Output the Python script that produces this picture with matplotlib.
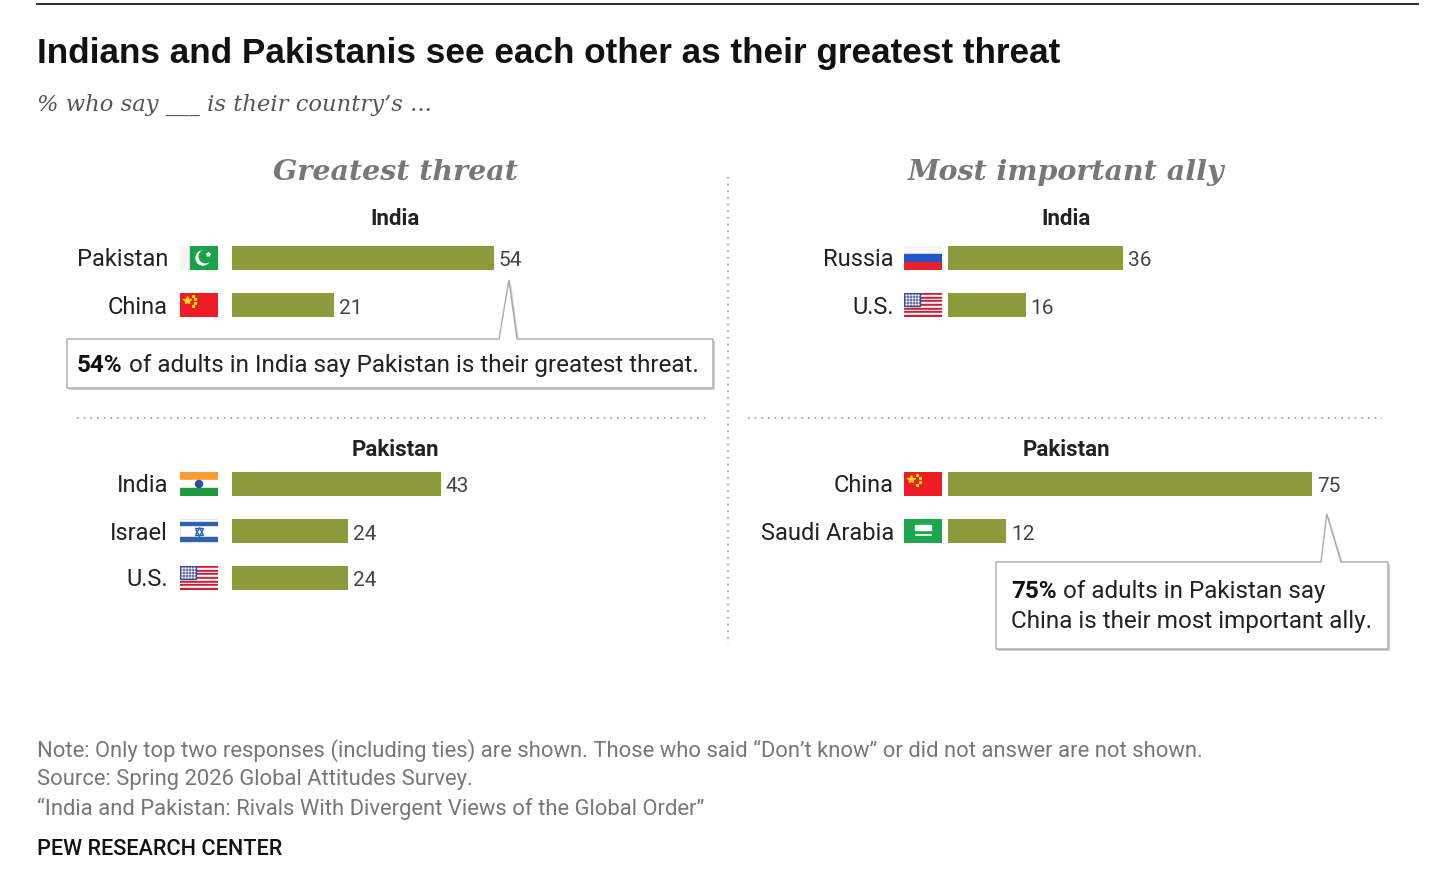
import numpy as np
import matplotlib.pyplot as plt
from matplotlib.patches import Rectangle, Polygon, Ellipse

W, H = 1456, 895
BAR = '#8c9a3b'
SANS = ['Roboto', 'DejaVu Sans']
SERIF = ['DejaVu Serif']

# data
threat_india_labels = ['Pakistan', 'China']
threat_india_values = [54, 21]
threat_pak_labels = ['India', 'Israel', 'U.S.']
threat_pak_values = [43, 24, 24]
ally_india_labels = ['Russia', 'U.S.']
ally_india_values = [36, 16]
ally_pak_labels = ['China', 'Saudi Arabia']
ally_pak_values = [75, 12]


def fx(x):
    return x / W


def fy(y):
    return 1 - y / H


fig = plt.figure(figsize=(W / 100, H / 100), dpi=100)
fig.patch.set_facecolor('white')


def draw_flag(fax, name):
    fax.set_xlim(0, 38)
    fax.set_ylim(24, 0)
    fax.axis('off')
    if name == 'Pakistan':
        fax.add_patch(Rectangle((0, 0), 10, 24, color='#f4f4f4'))
        fax.add_patch(Rectangle((10, 0), 28, 24, color='#1aa14a'))
        fax.add_patch(Ellipse((23, 12), 14, 14, color='white'))
        fax.add_patch(Ellipse((25.5, 10.5), 12.5, 12.5, color='#1aa14a'))
        fax.plot([28], [8], marker='*', color='white', ms=3)
    elif name == 'China':
        fax.add_patch(Rectangle((0, 0), 38, 24, color='#ee1c25'))
        fax.plot([7], [7], marker='*', color='#ffde00', ms=6)
        for sx, sy in [(13, 3), (15.5, 6), (15.5, 10), (13, 13)]:
            fax.plot([sx], [sy], marker='*', color='#ffde00', ms=2)
    elif name == 'India':
        fax.add_patch(Rectangle((0, 0), 38, 8, color='#ff9a2e'))
        fax.add_patch(Rectangle((0, 8), 38, 8, color='white'))
        fax.add_patch(Rectangle((0, 16), 38, 8, color='#1e9a3c'))
        fax.add_patch(Ellipse((19, 12), 7, 7, color='#2a4fa0'))
    elif name == 'Israel':
        fax.add_patch(Rectangle((0, 0), 38, 24, color='white', ec='#dddddd', lw=0.5))
        fax.add_patch(Rectangle((0, 2.5), 38, 3.5, color='#2d62b5'))
        fax.add_patch(Rectangle((0, 18), 38, 3.5, color='#2d62b5'))
        fax.plot([19], [11.5], marker='^', mfc='none', mec='#2d62b5', ms=6, mew=1)
        fax.plot([19], [12.5], marker='v', mfc='none', mec='#2d62b5', ms=6, mew=1)
    elif name == 'U.S.':
        for k in range(13):
            c = '#c8203a' if k % 2 == 0 else 'white'
            fax.add_patch(Rectangle((0, k * 24 / 13), 38, 24 / 13, color=c))
        fax.add_patch(Rectangle((0, 0), 16, 13, color='#3b4c8e'))
        for ix in range(5):
            for iy in range(4):
                fax.plot([2 + ix * 3], [2 + iy * 3], marker='.', color='white', ms=1.5)
    elif name == 'Russia':
        fax.add_patch(Rectangle((0, 0), 38, 8, color='#f6f6f6'))
        fax.add_patch(Rectangle((0, 8), 38, 8, color='#1e55c8'))
        fax.add_patch(Rectangle((0, 16), 38, 8, color='#e3222b'))
    elif name == 'Saudi Arabia':
        fax.add_patch(Rectangle((0, 0), 38, 24, color='#1ca64e'))
        fax.add_patch(Rectangle((11, 6), 16, 5, color='white'))
        fax.plot([12, 27], [16, 16], color='white', lw=1.2)


def panel(x0, y0, labels, values, label_gap, flag_gap):
    n = len(labels)
    step = 47
    ax = fig.add_axes([fx(x0), fy(y0 - step / 2 + n * step), fx(485), n * step / H])
    ax.set_xlim(0, 100)
    ax.set_ylim(n - 0.5, -0.5)
    ax.axis('off')
    ypos = np.arange(n)
    ax.barh(ypos, values, height=0.51, color=BAR)
    for i, (lab, v) in enumerate(zip(labels, values)):
        ax.annotate(str(v), xy=(v, i), xytext=(5, -2), textcoords='offset pixels',
                    va='center', ha='left', fontsize=15, color='#444444', family=SANS)
        ax.annotate(lab, xy=(0, i), xytext=(-(flag_gap + 38 + label_gap), -1),
                    textcoords='offset pixels', va='center', ha='right',
                    fontsize=17, color='#222222', family=SANS)
        dx, dy = ax.transData.transform((0, i))
        fax = fig.add_axes([(dx - flag_gap - 38) / W, (dy - 12) / H, 38 / W, 24 / H])
        draw_flag(fax, lab)
    return ax


ax1 = panel(232, 259, threat_india_labels, threat_india_values, 12, 14)
ax2 = panel(232, 485, threat_pak_labels, threat_pak_values, 12, 14)
ax3 = panel(948, 259, ally_india_labels, ally_india_values, 10, 6)
ax4 = panel(948, 485, ally_pak_labels, ally_pak_values, 10, 6)

# rules and separators
fig.add_artist(plt.Line2D([fx(37), fx(1418)], [fy(5), fy(5)], color='#333333', lw=1.5))
fig.add_artist(plt.Line2D([fx(728), fx(728)], [fy(178), fy(645)], color='#999999',
                          lw=1.2, linestyle=(0, (1, 3))))
fig.add_artist(plt.Line2D([fx(77), fx(710)], [fy(419), fy(419)], color='#999999',
                          lw=1.2, linestyle=(0, (1, 3))))
fig.add_artist(plt.Line2D([fx(748), fx(1382)], [fy(419), fy(419)], color='#999999',
                          lw=1.2, linestyle=(0, (1, 3))))

# titles
fig.text(fx(37), fy(54), 'Indians and Pakistanis see each other as their greatest threat',
         fontsize=25.3, fontweight='bold', family=['Liberation Sans'], va='center', ha='left',
         color='#111111')
fig.text(fx(37), fy(105), '% who say ___ is their country\u2019s ...', fontsize=16.3,
         style='italic', family=SERIF, va='center', ha='left', color='#555555')

for xc, t in [(395, 'Greatest threat'), (1066, 'Most important ally')]:
    fig.text(fx(xc), fy(173), t, fontsize=20.5, style='italic', fontweight='bold',
             family=SERIF, color='#777777', ha='center', va='center')
for xc in (395, 1066):
    fig.text(fx(xc), fy(219), 'India', fontsize=16, fontweight='bold', family=SANS,
             color='#222222', ha='center', va='center')
    fig.text(fx(xc), fy(450), 'Pakistan', fontsize=16, fontweight='bold', family=SANS,
             color='#222222', ha='center', va='center')


def callout(box, notch, apex):
    x0, y0, x1, y1 = box
    nl, nr = notch
    pts = [(x0, y0), (nl, y0), apex, (nr, y0), (x1, y0), (x1, y1), (x0, y1)]
    shadow = [(fx(x + 2), fy(y + 2)) for x, y in pts]
    fig.add_artist(Polygon(shadow, closed=True, fc='#d0d0d0', ec='none',
                           transform=fig.transFigure))
    fig.add_artist(Polygon([(fx(x), fy(y)) for x, y in pts], closed=True, fc='white',
                           ec='#aaaaaa', lw=1, transform=fig.transFigure))


def rich_line(x, y, bold, rest, size=17.5):
    r = fig.canvas.get_renderer()
    t = fig.text(fx(x), fy(y), bold, fontsize=size, fontweight='bold', family=SANS,
                 va='baseline', ha='left', color='#111111')
    bb = t.get_window_extent(renderer=r)
    fig.text(bb.x1 / W, fy(y), rest, fontsize=size, family=SANS, va='baseline',
             ha='left', color='#222222')


# apex anchored to bar ends
ax_, ay_ = ax1.transData.transform((threat_india_values[0], 0))
callout((67, 340, 713, 389), (499, 517), (ax_ + 15, H - ay_ + 22))
rich_line(77, 372, '54%', ' of adults in India say Pakistan is their greatest threat.')

bx_, by_ = ax4.transData.transform((ally_pak_values[0], 0))
callout((996, 563, 1388, 650), (1321, 1341), (bx_ + 15, H - by_ + 30))
rich_line(1011, 598, '75%', ' of adults in Pakistan say')
fig.text(fx(1011), fy(628), 'China is their most important ally.', fontsize=17.5,
         family=SANS, va='baseline', ha='left', color='#222222')

# notes
notes = [
    'Note: Only top two responses (including ties) are shown. Those who said \u201cDon\u2019t know\u201d or did not answer are not shown.',
    'Source: Spring 2026 Global Attitudes Survey.',
    '\u201cIndia and Pakistan: Rivals With Divergent Views of the Global Order\u201d',
]
for k, s in enumerate(notes):
    fig.text(fx(37), fy(751 + 29 * k), s, fontsize=15.85, family=SANS, color='#777777',
             va='center', ha='left')
fig.text(fx(37), fy(850), 'PEW RESEARCH CENTER', fontsize=15.6, family=SANS,
         fontweight='medium', color='#111111', va='center', ha='left')

fig.savefig('out.png', dpi=100, facecolor='white')
